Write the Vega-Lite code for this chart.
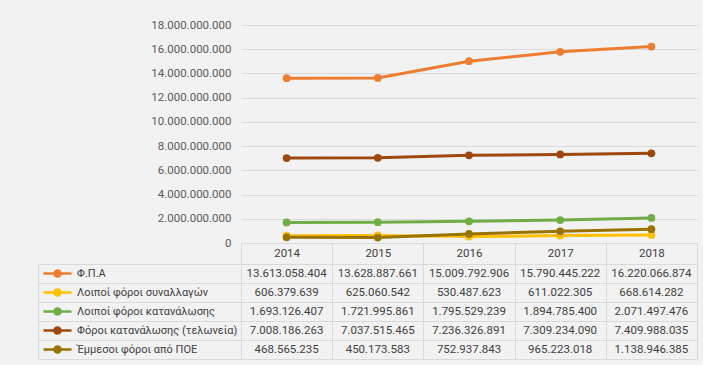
{
  "$schema": "https://vega.github.io/schema/vega-lite/v6.json",
  "background": "#F2F2F2",
  "padding": {"left": 37, "top": 19, "right": 5, "bottom": 5},
  "config": {
    "locale": {"number": {"decimal": ",", "thousands": ".", "grouping": [3], "currency": ["", " €"]}},
    "font": "Roboto",
    "view": {"stroke": null}
  },
  "data": {"values": [
    {"series": "Φ.Π.Α", "year": "2014", "value": 13613058404},
    {"series": "Φ.Π.Α", "year": "2015", "value": 13628887661},
    {"series": "Φ.Π.Α", "year": "2016", "value": 15009792906},
    {"series": "Φ.Π.Α", "year": "2017", "value": 15790445222},
    {"series": "Φ.Π.Α", "year": "2018", "value": 16220066874},
    {"series": "Λοιποί φόροι συναλλαγών", "year": "2014", "value": 606379639},
    {"series": "Λοιποί φόροι συναλλαγών", "year": "2015", "value": 625060542},
    {"series": "Λοιποί φόροι συναλλαγών", "year": "2016", "value": 530487623},
    {"series": "Λοιποί φόροι συναλλαγών", "year": "2017", "value": 611022305},
    {"series": "Λοιποί φόροι συναλλαγών", "year": "2018", "value": 668614282},
    {"series": "Λοιποί φόροι κατανάλωσης", "year": "2014", "value": 1693126407},
    {"series": "Λοιποί φόροι κατανάλωσης", "year": "2015", "value": 1721995861},
    {"series": "Λοιποί φόροι κατανάλωσης", "year": "2016", "value": 1795529239},
    {"series": "Λοιποί φόροι κατανάλωσης", "year": "2017", "value": 1894785400},
    {"series": "Λοιποί φόροι κατανάλωσης", "year": "2018", "value": 2071497476},
    {"series": "Φόροι κατανάλωσης (τελωνεία)", "year": "2014", "value": 7008186263},
    {"series": "Φόροι κατανάλωσης (τελωνεία)", "year": "2015", "value": 7037515465},
    {"series": "Φόροι κατανάλωσης (τελωνεία)", "year": "2016", "value": 7236326891},
    {"series": "Φόροι κατανάλωσης (τελωνεία)", "year": "2017", "value": 7309234090},
    {"series": "Φόροι κατανάλωσης (τελωνεία)", "year": "2018", "value": 7409988035},
    {"series": "Έμμεσοι φόροι από ΠΟΕ", "year": "2014", "value": 468565235},
    {"series": "Έμμεσοι φόροι από ΠΟΕ", "year": "2015", "value": 450173583},
    {"series": "Έμμεσοι φόροι από ΠΟΕ", "year": "2016", "value": 752937843},
    {"series": "Έμμεσοι φόροι από ΠΟΕ", "year": "2017", "value": 965223018},
    {"series": "Έμμεσοι φόροι από ΠΟΕ", "year": "2018", "value": 1138946385}
  ]},
  "bounds": "flush",
  "spacing": 21,
  "resolve": {
    "scale": {"x": "shared", "fill": "independent", "stroke": "independent", "color": "independent"},
    "legend": {"fill": "independent", "stroke": "independent", "color": "independent"}
  },
  "vconcat": [
    {
      "width": 456,
      "height": 218,
      "encoding": {
        "x": {
          "field": "year", "type": "nominal",
          "scale": {"type": "band", "paddingInner": 0, "paddingOuter": 0},
          "axis": {
            "title": null, "orient": "bottom", "grid": false,
            "tickBand": "extent", "ticks": true, "tickSize": 21, "tickColor": "#D9D9D9", "tickWidth": 1,
            "domain": true, "domainColor": "#D9D9D9", "domainWidth": 1,
            "labelAngle": 0, "labelPadding": -17, "labelFontSize": 11.5, "labelColor": "#404040", "labelFont": "Roboto"
          }
        },
        "y": {
          "field": "value", "type": "quantitative",
          "scale": {"domain": [0, 18000000000], "nice": false},
          "axis": {
            "title": null, "values": [0, 2000000000, 4000000000, 6000000000, 8000000000, 10000000000, 12000000000, 14000000000, 16000000000, 18000000000],
            "format": ",d", "grid": true, "gridColor": "#D9D9D9", "gridWidth": 1,
            "ticks": false, "domain": false, "labelPadding": 10,
            "labelFontSize": 11.5, "labelColor": "#595959", "labelFont": "Roboto"
          }
        },
        "color": {
          "field": "series", "type": "nominal",
          "scale": {
            "domain": ["Φ.Π.Α", "Λοιποί φόροι συναλλαγών", "Λοιποί φόροι κατανάλωσης", "Φόροι κατανάλωσης (τελωνεία)", "Έμμεσοι φόροι από ΠΟΕ"],
            "range": ["#ED7D31", "#FFC000", "#70AD47", "#9E480E", "#997300"]
          },
          "legend": null
        }
      },
      "layer": [
        {"mark": {"type": "line", "strokeWidth": 3}},
        {"mark": {"type": "point", "filled": true, "size": 60, "opacity": 1}}
      ]
    },
    {
      "width": 456,
      "height": 95,
      "encoding": {
        "x": {
          "field": "year", "type": "nominal",
          "scale": {"type": "band", "paddingInner": 0, "paddingOuter": 0},
          "axis": {"title": null, "grid": true, "gridColor": "#D9D9D9", "tickBand": "extent", "labels": false, "ticks": false, "domain": false}
        },
        "y": {
          "field": "series", "type": "nominal",
          "scale": {
            "type": "band", "paddingInner": 0, "paddingOuter": 0,
            "domain": ["Φ.Π.Α", "Λοιποί φόροι συναλλαγών", "Λοιποί φόροι κατανάλωσης", "Φόροι κατανάλωσης (τελωνεία)", "Έμμεσοι φόροι από ΠΟΕ"]
          },
          "axis": {"title": null, "grid": true, "gridColor": "#D9D9D9", "tickBand": "extent", "labels": false, "ticks": true, "tickSize": -203, "offset": 203, "tickColor": "#D9D9D9", "domain": true, "domainColor": "#D9D9D9"}
        }
      },
      "layer": [
        {
          "mark": {"type": "text", "fontSize": 11.5, "color": "#404040", "font": "Roboto"},
          "encoding": {"text": {"field": "value", "type": "quantitative", "format": ",d"}}
        },
        {
          "mark": {"type": "point", "filled": true, "opacity": 0},
          "encoding": {
            "fill": {
              "field": "series", "type": "nominal",
              "scale": {
                "domain": ["Φ.Π.Α", "Λοιποί φόροι συναλλαγών", "Λοιποί φόροι κατανάλωσης", "Φόροι κατανάλωσης (τελωνεία)", "Έμμεσοι φόροι από ΠΟΕ"],
                "range": ["#ED7D31", "#FFC000", "#70AD47", "#9E480E", "#997300"]
              },
              "legend": {
                "title": null, "orient": "left", "offset": -201, "padding": 0,
                "symbolType": "M-1,0L1,0M-0.22,0A0.22,0.22,0,1,1,0.22,0A0.22,0.22,0,1,1,-0.22,0Z",
                "symbolSize": 784, "symbolStrokeWidth": 2.5, "symbolOpacity": 1,
                "labelFontSize": 11, "labelColor": "#404040", "labelFont": "Roboto", "labelLimit": 400,
                "labelOffset": 4, "clipHeight": 19, "rowPadding": 0
              }
            },
            "stroke": {
              "field": "series", "type": "nominal",
              "scale": {
                "domain": ["Φ.Π.Α", "Λοιποί φόροι συναλλαγών", "Λοιποί φόροι κατανάλωσης", "Φόροι κατανάλωσης (τελωνεία)", "Έμμεσοι φόροι από ΠΟΕ"],
                "range": ["#ED7D31", "#FFC000", "#70AD47", "#9E480E", "#997300"]
              },
              "legend": {
                "title": null, "orient": "left", "offset": -201, "padding": 0,
                "symbolType": "M-1,0L1,0M-0.22,0A0.22,0.22,0,1,1,0.22,0A0.22,0.22,0,1,1,-0.22,0Z",
                "symbolSize": 784, "symbolStrokeWidth": 2.5, "symbolOpacity": 1,
                "labelFontSize": 11, "labelColor": "#404040", "labelFont": "Roboto", "labelLimit": 400,
                "labelOffset": 4, "clipHeight": 19, "rowPadding": 0
              }
            }
          }
        }
      ]
    }
  ]
}
